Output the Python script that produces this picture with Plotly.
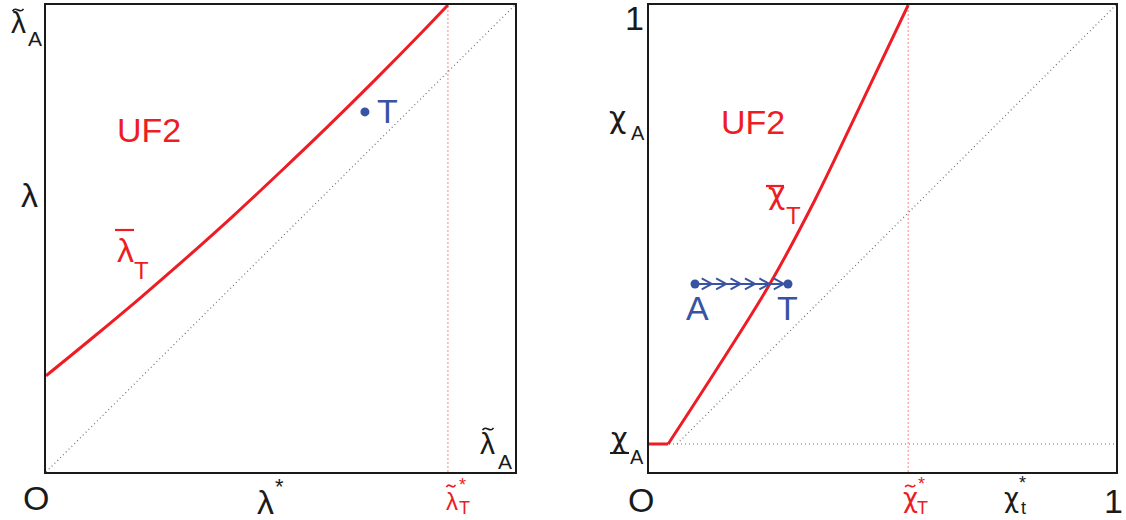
import plotly.graph_objects as go

W, H = 1126, 520
FONT = "Liberation Sans, Arial, sans-serif"
GREEK = "DejaVu Sans, sans-serif"
RED = "#ee1c24"
BLUE = "#3953a4"
INK = "#1a1a1a"

# ---- left panel: threshold curve lambda_bar_T against lambda ----
lam_x = [0.0, 0.1, 0.2, 0.3, 0.4, 0.5, 0.6, 0.7, 0.8, 0.857]
lam_bar_T = [0.206, 0.288, 0.372, 0.459, 0.549, 0.643, 0.739, 0.838, 0.940, 1.0]
lam_star = 0.469
lam_tilde_star_T = 0.857
lam_level = 0.593
point_T_left = (0.680, 0.771)

# ---- right panel: threshold curve chi_bar_T against chi ----
chi_x = [0.0, 0.041, 0.15, 0.259, 0.355, 0.455, 0.555]
chi_bar_T = [0.060, 0.060, 0.228, 0.403, 0.582, 0.790, 1.0]
chi_low_A = 0.060
chi_A_level = 0.749
chi_tilde_star_T = 0.555
chi_star_t = 0.776
A_x, T_x, AT_y = 0.0985, 0.2976, 0.4026
n_chevrons = 6

# label texts
lam_sym, chi_sym = "λ", "χ"
region_name = "UF2"
sub_A, sub_T, sub_t = "A", "T", "t"
one, origin = "1", "O"

XD1 = [46 / W, 515 / W]
XD2 = [649 / W, 1116 / W]
YD = [1 - 472 / H, 1 - 5 / H]

fig = go.Figure()

diag_style = dict(color="#707070", width=1.2, dash="1px,3px")
vline_style = dict(color="rgba(238,40,40,0.55)", width=1, dash="2px,2px")

# left panel
fig.add_trace(go.Scatter(x=[0, 1], y=[0, 1], mode="lines", line=diag_style,
                         xaxis="x", yaxis="y", hoverinfo="skip"))
fig.add_trace(go.Scatter(x=[lam_tilde_star_T, lam_tilde_star_T], y=[0, 1], mode="lines",
                         line=vline_style, xaxis="x", yaxis="y", hoverinfo="skip"))
fig.add_trace(go.Scatter(x=lam_x, y=lam_bar_T, mode="lines", line=dict(color=RED, width=3, shape="spline"),
                         xaxis="x", yaxis="y", hoverinfo="skip"))
fig.add_trace(go.Scatter(x=[point_T_left[0]], y=[point_T_left[1]], mode="markers",
                         marker=dict(color=BLUE, size=9), xaxis="x", yaxis="y", hoverinfo="skip"))

# right panel
fig.add_trace(go.Scatter(x=[0, 1], y=[chi_low_A, chi_low_A], mode="lines", line=diag_style,
                         xaxis="x2", yaxis="y2", hoverinfo="skip"))
fig.add_trace(go.Scatter(x=[chi_low_A, 1], y=[chi_low_A, 1], mode="lines", line=diag_style,
                         xaxis="x2", yaxis="y2", hoverinfo="skip"))
fig.add_trace(go.Scatter(x=[chi_tilde_star_T, chi_tilde_star_T], y=[0, 1], mode="lines",
                         line=vline_style, xaxis="x2", yaxis="y2", hoverinfo="skip"))
fig.add_trace(go.Scatter(x=chi_x[:2], y=chi_bar_T[:2], mode="lines", line=dict(color=RED, width=3),
                         xaxis="x2", yaxis="y2", hoverinfo="skip"))
fig.add_trace(go.Scatter(x=chi_x[1:], y=chi_bar_T[1:], mode="lines", line=dict(color=RED, width=3, shape="spline"),
                         xaxis="x2", yaxis="y2", hoverinfo="skip"))

# A -> T path with chevrons
ux = 1 / ((XD2[1] - XD2[0]) * W)   # data units per pixel, x
uy = 1 / ((YD[1] - YD[0]) * H)     # data units per pixel, y
cx, cy = [A_x, T_x, None], [AT_y, AT_y, None]
for k in range(n_chevrons):
    tip = A_x + (T_x - A_x) * (0.18 + 0.155 * k)
    cx += [tip - 10 * ux, tip, tip - 10 * ux, None]
    cy += [AT_y + 5.5 * uy, AT_y, AT_y - 5.5 * uy, None]
fig.add_trace(go.Scatter(x=cx, y=cy, mode="lines", line=dict(color=BLUE, width=2),
                         xaxis="x2", yaxis="y2", hoverinfo="skip", connectgaps=False))
fig.add_trace(go.Scatter(x=[A_x, T_x], y=[AT_y, AT_y], mode="markers",
                         marker=dict(color=BLUE, size=9), xaxis="x2", yaxis="y2", hoverinfo="skip"))


def px(p):
    return p / W


def py(p):
    return 1 - p / H


def pix_x(v, dom):
    """pixel column of data value v on an x axis with the given domain"""
    return (dom[0] + v * (dom[1] - dom[0])) * W


def txt(text, x, y, size, color=INK, xref="paper", yref="paper", xshift=0, yshift=0,
        family=FONT, yanchor="middle"):
    fig.add_annotation(text=text, x=x, y=y, xref=xref, yref=yref, showarrow=False,
                       xanchor="center", yanchor=yanchor, xshift=xshift, yshift=yshift,
                       font=dict(family=family, size=size, color=color))


def bar(x0, x1, y, color, width=2.2):
    fig.add_shape(type="line", xref="paper", yref="paper", x0=px(x0), x1=px(x1),
                  y0=py(y), y1=py(y), line=dict(color=color, width=width))


def tilde(cxp, cyp, color, w=10, h=2.2, width=1.6):
    """small wavy accent centred on pixel (cxp, cyp)"""
    x0, x1 = cxp - w / 2, cxp + w / 2
    path = (f"M {px(x0)},{py(cyp + h / 2)} "
            f"C {px(x0 + w / 3)},{py(cyp - 2.2 * h)} {px(x0 + 2 * w / 3)},{py(cyp + 2.2 * h)} "
            f"{px(x1)},{py(cyp - h / 2)}")
    fig.add_shape(type="path", xref="paper", yref="paper", path=path,
                  line=dict(color=color, width=width))


# left panel labels
txt(lam_sym, px(18), py(23), 30)
tilde(18, 10, INK, w=11)
txt(sub_A, px(35), py(39), 21)
txt(lam_sym, px(29), lam_level, 34, yref="y")
txt(origin, px(36), py(498), 34)
txt(lam_sym, lam_star, py(502), 34, xref="x")
txt("*", lam_star, py(486), 22, xref="x", xshift=14)
lx = pix_x(lam_tilde_star_T, XD1)
txt(lam_sym, lam_tilde_star_T, py(501), 24, RED, xref="x", xshift=4)
tilde(lx + 3, 486, RED, w=9)
txt("*", lam_tilde_star_T, py(485), 18, RED, xref="x", xshift=15)
txt(sub_T, lam_tilde_star_T, 0, 18, RED, xref="x", xshift=17, yanchor="bottom")
txt(lam_sym, px(487), py(443), 30)
tilde(488, 429, INK, w=11)
txt(sub_A, px(505), py(461), 21)
txt(region_name, px(149), py(130), 34, RED)
txt(lam_sym, px(125), py(250), 34, RED)
bar(115, 134, 230, RED)
txt(sub_T, px(141), py(270), 24, RED)
txt(sub_T, px(387), py(111), 34, BLUE)

# right panel labels
txt(one, px(634), py(18), 34)
txt(chi_sym, px(617), chi_A_level, 30, yref="y2", yshift=5, family=GREEK)
txt(sub_A, px(638), chi_A_level, 20, yref="y2", yshift=-11)
txt(chi_sym, px(619), chi_low_A, 29, yref="y2", yshift=6, family=GREEK)
bar(610, 629, 453, INK, 2)
txt(sub_A, px(637), chi_low_A, 20, yref="y2", yshift=-13)
txt(origin, px(641), py(500), 34)
cxr = pix_x(chi_tilde_star_T, XD2)
txt(chi_sym, chi_tilde_star_T, py(498), 26, RED, xref="x2", xshift=2, family=GREEK)
tilde(cxr + 2, 486, RED, w=10)
txt("*", chi_tilde_star_T, py(484), 18, RED, xref="x2", xshift=13)
txt(sub_T, chi_tilde_star_T, 0, 18, RED, xref="x2", xshift=14, yanchor="bottom")
txt(chi_sym, chi_star_t, py(498), 26, xref="x2", family=GREEK)
txt("*", chi_star_t, py(483), 18, xref="x2", xshift=11)
txt(sub_t, chi_star_t, 0, 18, xref="x2", xshift=12, yanchor="bottom")
txt(one, px(1113), py(501), 34)
txt(region_name, px(753), py(122), 34, RED)
txt(chi_sym, px(776), py(193), 30, RED, family=GREEK)
bar(766, 784, 186, RED)
txt(sub_T, px(793), py(215), 24, RED)
txt(sub_A, A_x, AT_y, 34, BLUE, xref="x2", yref="y2", xshift=2, yshift=-24)
txt(sub_T, T_x, AT_y, 34, BLUE, xref="x2", yref="y2", yshift=-24)

axis_common = dict(range=[0, 1], showgrid=False, zeroline=False, showticklabels=False, ticks="",
                   showline=True, mirror=True, linecolor=INK, linewidth=1.5, fixedrange=True)

fig.update_layout(
    width=W, height=H,
    margin=dict(l=0, r=0, t=0, b=0),
    paper_bgcolor="white", plot_bgcolor="white",
    showlegend=False,
    xaxis=dict(domain=XD1, anchor="y", **axis_common),
    yaxis=dict(domain=YD, anchor="x", **axis_common),
    xaxis2=dict(domain=XD2, anchor="y2", **axis_common),
    yaxis2=dict(domain=YD, anchor="x2", **axis_common),
)

fig.write_html("out.html", config={"displayModeBar": False})
